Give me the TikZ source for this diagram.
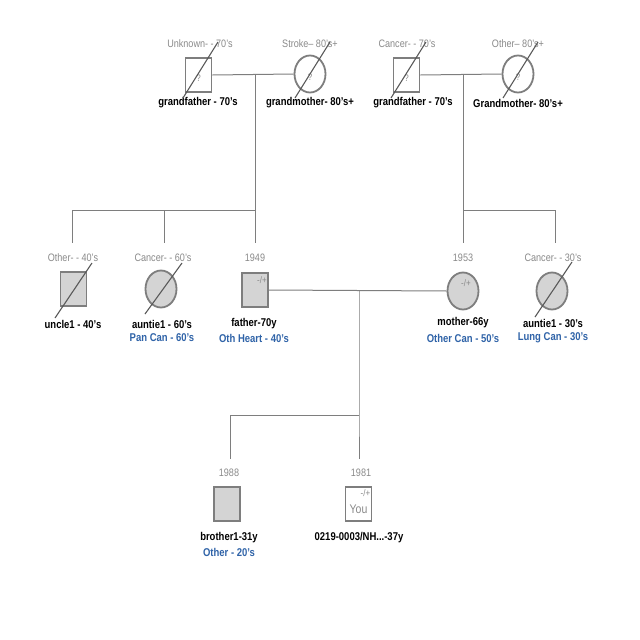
\documentclass[tikz,border=0pt]{standalone}
\usepackage{fontspec}
\setmainfont[FakeStretch=0.84]{Liberation Sans}
\usetikzlibrary{shapes.geometric}
\begin{document}
\definecolor{edge}{HTML}{7E7E7E}
\definecolor{shade}{HTML}{D4D4D4}
\definecolor{note}{HTML}{8A8A8A}
\definecolor{dx}{HTML}{2F63A8}
\begin{tikzpicture}[x=1pt,y=-1pt,
  male/.style={draw=edge,line width=1.8pt,rectangle,minimum width=26pt,minimum height=34pt,inner sep=0pt},
  female/.style={draw=edge,line width=1.8pt,ellipse,minimum width=31pt,minimum height=37pt,inner sep=0pt},
  filled/.style={fill=shade},
  link/.style={draw=edge,line width=1pt},
  slash/.style={draw=black!65,line width=1.1pt},
  agetext/.style={text=note,font=\fontsize{10.8}{12}\selectfont,inner sep=0pt},
  nametext/.style={text=black,font=\bfseries\fontsize{11.3}{13}\selectfont,inner sep=0pt},
  condtext/.style={text=dx,font=\bfseries\fontsize{11.3}{13}\selectfont,inner sep=0pt},
  tagtext/.style={text=note,font=\fontsize{9.5}{10}\selectfont,inner sep=0pt},
]
\useasboundingbox[fill=white] (0,0) rectangle (640,640);

% ---- grandparents (paternal)
\node[male] (pgf) at (198.5,75) {};
\node[female] (pgm) at (310,74) {};
\node[agetext] (pgfa) at (200,44) {Unknown- - 70's};
\node[agetext] (pgma) at (310,44) {Stroke-- 80's+};
\node[nametext] (pgfn) at (198,103) {grandfather - 70's};
\node[nametext] (pgmn) at (310,103) {grandmother- 80's+};
\node[tagtext] (pgfq) at ([yshift=-3pt]pgf.center) {?};
\node[tagtext] (pgmq) at ([yshift=-3pt]pgm.center) {?};
\draw[slash] (183,98) -- (218,42);
\draw[slash] (295,98) -- (330,42);

% ---- grandparents (maternal)
\node[male] (mgf) at (406.5,75) {};
\node[female] (mgm) at (518,74) {};
\node[agetext] (mgfa) at (407,44) {Cancer- - 70's};
\node[agetext] (mgma) at (518,44) {Other-- 80's+};
\node[nametext] (mgfn) at (413,103) {grandfather - 70's};
\node[nametext] (mgmn) at (518,103) {Grandmother- 80's+};
\node[tagtext] (mgfq) at ([yshift=-3pt]mgf.center) {?};
\node[tagtext] (mgmq) at ([yshift=-3pt]mgm.center) {?};
\draw[slash] (391,98) -- (426,42);
\draw[slash] (503,98) -- (538,42);

% ---- couple lines and sibship lines
\coordinate (pc) at (255,74);
\coordinate (mc) at (463,74);
\draw[link] (pgf.east) -- (pgm.west);
\draw[link] (mgf.east) -- (mgm.west);
\coordinate (ps) at (255,210);
\coordinate (ms) at (463,210);
\draw[link] (pc) -- (ps);
\draw[link] (mc) -- (ms);
\coordinate (s1) at (72,210);
\coordinate (s2) at (164,210);
\coordinate (s5) at (555,210);
\draw[link] (s1) -- (ps);
\draw[link] (ms) -- (s5);
\coordinate (d1) at (72,243);
\coordinate (d2) at (164,243);
\coordinate (d3) at (255,243);
\coordinate (d4) at (463,243);
\coordinate (d5) at (555,243);
\draw[link] (s1) -- (d1);
\draw[link] (s2) -- (d2);
\draw[link] (ps) -- (d3);
\draw[link] (ms) -- (d4);
\draw[link] (s5) -- (d5);

% ---- parents' generation
\node[male,filled] (unc) at (73.5,289) {};
\node[female,filled] (au1) at (161,289) {};
\node[male,filled] (fat) at (255,290) {};
\node[female,filled] (mot) at (463,291) {};
\node[female,filled] (au2) at (552,291) {};

\node[agetext] (unca) at (73,258) {Other- - 40's};
\node[agetext] (au1a) at (163,258) {Cancer- - 60's};
\node[agetext] (fata) at (255,258) {1949};
\node[agetext] (mota) at (463,258) {1953};
\node[agetext] (au2a) at (553,258) {Cancer- - 30's};

\draw[slash] (55,318) -- (92,263);
\draw[slash] (145,314) -- (182,263);
\draw[slash] (535,317) -- (572,262);

\node[tagtext,anchor=north east] (fatt) at ([xshift=-2pt,yshift=-4pt]fat.north east) {-/+};
\node[tagtext] (mott) at ([xshift=3pt,yshift=8pt]mot.center) {-/+};

\node[nametext] (uncn) at (73,324) {uncle1 - 40's};
\node[nametext] (au1n) at (162,324) {auntie1 - 60's};
\node[condtext] (au1c) at (162,338) {Pan Can - 60's};
\node[nametext] (fatn) at (254,324) {father-70y};
\node[condtext] (fatc) at (254,338) {Oth Heart - 40's};
\node[nametext] (motn) at (463,323) {mother-66y};
\node[condtext] (motc) at (463,338) {Other Can - 50's};
\node[nametext] (au2n) at (553,323) {auntie1 - 30's};
\node[condtext] (au2c) at (553,338) {Lung Can - 30's};

% ---- marriage and children
\draw[link] (fat.east) -- (mot.west);
\coordinate (mm) at (359,290);
\coordinate (cs) at (359,415);
\coordinate (cl) at (230,415);
\coordinate (cb) at (230,459);
\coordinate (cy) at (359,459);
\draw[link] (mm) -- (cs) -- (cy);
\draw[link] (cs) -- (cl) -- (cb);

\node[male,filled] (bro) at (227,504) {};
\node[male,fill=white] (you) at (358.5,504) {};
\node[agetext] (broa) at (229,473) {1988};
\node[agetext] (youa) at (361,473) {1981};
\node[tagtext,anchor=north east] (yout) at ([xshift=-2pt,yshift=-3pt]you.north east) {-/+};
\node[text=note,font=\fontsize{12.5}{13}\selectfont,inner sep=0pt] (youl) at ([yshift=-5pt]you.center) {You};

\node[nametext] (bron) at (229,538) {brother1-31y};
\node[condtext] (broc) at (229,552) {Other - 20's};
\node[nametext] (youn) at (359,538) {0219-0003/NH...-37y};
\end{tikzpicture}
\end{document}
